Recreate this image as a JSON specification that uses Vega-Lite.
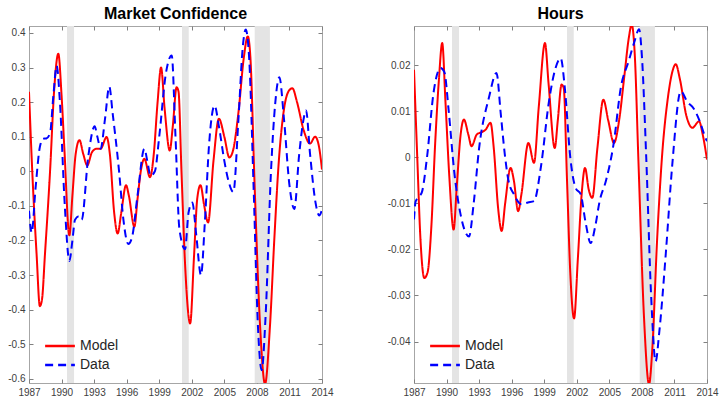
{
  "$schema": "https://vega.github.io/schema/vega-lite/v6.json",
  "background": "white",
  "padding": {"left": 7, "top": 5, "right": 0, "bottom": 0},
  "spacing": 52,
  "config": {
    "view": {"stroke": "#a6a6a6", "strokeWidth": 1},
    "axis": {"grid": false, "domain": false, "ticks": true, "tickSize": -4, "tickColor": "#808080", "labelPadding": 8, "labelFontSize": 10, "labelColor": "#404040", "labelFont": "Liberation Sans", "labelOverlap": false, "labelFlush": false},
    "title": {"font": "Liberation Sans", "fontSize": 16, "fontWeight": "bold", "color": "#000000", "offset": 4, "anchor": "middle", "frame": "group"}
  },
  "datasets": {
    "rec": [
      {"start": 1990.5, "end": 1991.15},
      {"start": 2001.1, "end": 2001.72},
      {"start": 2007.8, "end": 2009.2}
    ],
    "mc": [
      {"series": "Model", "year": 1987.0, "value": 0.23},
      {"series": "Model", "year": 1987.3, "value": 0.0},
      {"series": "Model", "year": 1987.7, "value": -0.24},
      {"series": "Model", "year": 1988.0, "value": -0.39},
      {"series": "Model", "year": 1988.2, "value": -0.37},
      {"series": "Model", "year": 1988.47, "value": -0.24},
      {"series": "Model", "year": 1988.94, "value": 0.0},
      {"series": "Model", "year": 1989.33, "value": 0.24},
      {"series": "Model", "year": 1989.7, "value": 0.34},
      {"series": "Model", "year": 1990.0, "value": 0.22},
      {"series": "Model", "year": 1990.26, "value": 0.065},
      {"series": "Model", "year": 1990.72, "value": -0.185},
      {"series": "Model", "year": 1991.0, "value": -0.07},
      {"series": "Model", "year": 1991.3, "value": 0.05},
      {"series": "Model", "year": 1991.65, "value": 0.09},
      {"series": "Model", "year": 1992.0, "value": 0.05},
      {"series": "Model", "year": 1992.37, "value": 0.017},
      {"series": "Model", "year": 1992.8, "value": 0.055},
      {"series": "Model", "year": 1993.2, "value": 0.065},
      {"series": "Model", "year": 1993.6, "value": 0.065},
      {"series": "Model", "year": 1994.15, "value": 0.099},
      {"series": "Model", "year": 1994.45, "value": 0.05},
      {"series": "Model", "year": 1994.85, "value": -0.12},
      {"series": "Model", "year": 1995.17, "value": -0.18},
      {"series": "Model", "year": 1995.5, "value": -0.12},
      {"series": "Model", "year": 1995.94, "value": -0.04},
      {"series": "Model", "year": 1996.2, "value": -0.07},
      {"series": "Model", "year": 1996.71, "value": -0.16},
      {"series": "Model", "year": 1997.0, "value": -0.08},
      {"series": "Model", "year": 1997.3, "value": 0.0},
      {"series": "Model", "year": 1997.63, "value": 0.036},
      {"series": "Model", "year": 1998.15, "value": -0.017},
      {"series": "Model", "year": 1998.5, "value": 0.05},
      {"series": "Model", "year": 1998.85, "value": 0.2},
      {"series": "Model", "year": 1999.17, "value": 0.30},
      {"series": "Model", "year": 1999.5, "value": 0.18},
      {"series": "Model", "year": 1999.97, "value": 0.06},
      {"series": "Model", "year": 2000.25, "value": 0.13},
      {"series": "Model", "year": 2000.6, "value": 0.243},
      {"series": "Model", "year": 2000.78, "value": 0.23},
      {"series": "Model", "year": 2001.05, "value": 0.0},
      {"series": "Model", "year": 2001.4, "value": -0.28},
      {"series": "Model", "year": 2001.85, "value": -0.44},
      {"series": "Model", "year": 2002.2, "value": -0.25},
      {"series": "Model", "year": 2002.5, "value": -0.08},
      {"series": "Model", "year": 2002.8, "value": -0.04},
      {"series": "Model", "year": 2003.15, "value": -0.10},
      {"series": "Model", "year": 2003.5, "value": -0.148},
      {"series": "Model", "year": 2004.0, "value": 0.03},
      {"series": "Model", "year": 2004.5, "value": 0.152},
      {"series": "Model", "year": 2005.0, "value": 0.10},
      {"series": "Model", "year": 2005.46, "value": 0.04},
      {"series": "Model", "year": 2005.8, "value": 0.06},
      {"series": "Model", "year": 2006.3, "value": 0.17},
      {"series": "Model", "year": 2006.8, "value": 0.33},
      {"series": "Model", "year": 2007.16, "value": 0.39},
      {"series": "Model", "year": 2007.4, "value": 0.33},
      {"series": "Model", "year": 2007.8, "value": -0.05},
      {"series": "Model", "year": 2008.3, "value": -0.45},
      {"series": "Model", "year": 2008.75, "value": -0.615},
      {"series": "Model", "year": 2009.2, "value": -0.45},
      {"series": "Model", "year": 2009.6, "value": -0.20},
      {"series": "Model", "year": 2010.0, "value": 0.02},
      {"series": "Model", "year": 2010.5, "value": 0.18},
      {"series": "Model", "year": 2011.0, "value": 0.235},
      {"series": "Model", "year": 2011.27, "value": 0.24},
      {"series": "Model", "year": 2011.7, "value": 0.20},
      {"series": "Model", "year": 2012.3, "value": 0.12},
      {"series": "Model", "year": 2012.9, "value": 0.08},
      {"series": "Model", "year": 2013.36, "value": 0.10},
      {"series": "Model", "year": 2013.7, "value": 0.075},
      {"series": "Model", "year": 2014.0, "value": 0.005},
      {"series": "Data", "year": 1987.0, "value": -0.114},
      {"series": "Data", "year": 1987.25, "value": -0.177},
      {"series": "Data", "year": 1987.6, "value": -0.05},
      {"series": "Data", "year": 1988.0, "value": 0.07},
      {"series": "Data", "year": 1988.32, "value": 0.094},
      {"series": "Data", "year": 1988.6, "value": 0.095},
      {"series": "Data", "year": 1988.94, "value": 0.11},
      {"series": "Data", "year": 1989.25, "value": 0.22},
      {"series": "Data", "year": 1989.55, "value": 0.305},
      {"series": "Data", "year": 1989.85, "value": 0.2},
      {"series": "Data", "year": 1990.3, "value": -0.1},
      {"series": "Data", "year": 1990.72, "value": -0.259},
      {"series": "Data", "year": 1991.0, "value": -0.2},
      {"series": "Data", "year": 1991.24, "value": -0.14},
      {"series": "Data", "year": 1991.6, "value": -0.13},
      {"series": "Data", "year": 1991.85, "value": -0.14},
      {"series": "Data", "year": 1992.47, "value": 0.045},
      {"series": "Data", "year": 1993.05, "value": 0.13},
      {"series": "Data", "year": 1993.3, "value": 0.1},
      {"series": "Data", "year": 1993.6, "value": 0.065},
      {"series": "Data", "year": 1994.0, "value": 0.15},
      {"series": "Data", "year": 1994.4, "value": 0.245},
      {"series": "Data", "year": 1994.7, "value": 0.17},
      {"series": "Data", "year": 1995.3, "value": 0.0},
      {"series": "Data", "year": 1995.7, "value": -0.14},
      {"series": "Data", "year": 1996.15, "value": -0.21},
      {"series": "Data", "year": 1996.5, "value": -0.19},
      {"series": "Data", "year": 1997.0, "value": -0.07},
      {"series": "Data", "year": 1997.63, "value": 0.065},
      {"series": "Data", "year": 1997.9, "value": 0.03},
      {"series": "Data", "year": 1998.2, "value": -0.013},
      {"series": "Data", "year": 1998.6, "value": 0.0},
      {"series": "Data", "year": 1999.0, "value": 0.1},
      {"series": "Data", "year": 1999.6, "value": 0.28},
      {"series": "Data", "year": 2000.15, "value": 0.335},
      {"series": "Data", "year": 2000.5, "value": 0.1},
      {"series": "Data", "year": 2000.86, "value": -0.167},
      {"series": "Data", "year": 2001.38, "value": -0.225},
      {"series": "Data", "year": 2001.7, "value": -0.12},
      {"series": "Data", "year": 2002.05, "value": -0.09},
      {"series": "Data", "year": 2002.4, "value": -0.18},
      {"series": "Data", "year": 2002.85, "value": -0.30},
      {"series": "Data", "year": 2003.2, "value": -0.15},
      {"series": "Data", "year": 2003.6, "value": 0.08},
      {"series": "Data", "year": 2004.1, "value": 0.19},
      {"series": "Data", "year": 2004.5, "value": 0.13},
      {"series": "Data", "year": 2005.0, "value": 0.03},
      {"series": "Data", "year": 2005.4, "value": -0.03},
      {"series": "Data", "year": 2005.83, "value": -0.06},
      {"series": "Data", "year": 2006.3, "value": 0.15},
      {"series": "Data", "year": 2006.7, "value": 0.36},
      {"series": "Data", "year": 2006.97, "value": 0.41},
      {"series": "Data", "year": 2007.3, "value": 0.32},
      {"series": "Data", "year": 2007.7, "value": -0.05},
      {"series": "Data", "year": 2008.1, "value": -0.45},
      {"series": "Data", "year": 2008.44, "value": -0.575},
      {"series": "Data", "year": 2008.8, "value": -0.42},
      {"series": "Data", "year": 2009.3, "value": 0.0},
      {"series": "Data", "year": 2009.7, "value": 0.2},
      {"series": "Data", "year": 2010.07, "value": 0.272},
      {"series": "Data", "year": 2010.5, "value": 0.15},
      {"series": "Data", "year": 2011.0, "value": -0.04},
      {"series": "Data", "year": 2011.45, "value": -0.109},
      {"series": "Data", "year": 2011.9, "value": 0.05},
      {"series": "Data", "year": 2012.3, "value": 0.15},
      {"series": "Data", "year": 2012.53, "value": 0.176},
      {"series": "Data", "year": 2012.9, "value": 0.05},
      {"series": "Data", "year": 2013.4, "value": -0.09},
      {"series": "Data", "year": 2013.75, "value": -0.128},
      {"series": "Data", "year": 2014.0, "value": -0.11}
    ],
    "hours": [
      {"series": "Model", "year": 1987.0, "value": 0.019},
      {"series": "Model", "year": 1987.3, "value": 0.0},
      {"series": "Model", "year": 1987.6, "value": -0.018},
      {"series": "Model", "year": 1987.95, "value": -0.0262},
      {"series": "Model", "year": 1988.25, "value": -0.025},
      {"series": "Model", "year": 1988.6, "value": -0.015},
      {"series": "Model", "year": 1988.95, "value": 0.003},
      {"series": "Model", "year": 1989.3, "value": 0.017},
      {"series": "Model", "year": 1989.6, "value": 0.0248},
      {"series": "Model", "year": 1989.9, "value": 0.012},
      {"series": "Model", "year": 1990.25, "value": -0.004},
      {"series": "Model", "year": 1990.65, "value": -0.0157},
      {"series": "Model", "year": 1990.95, "value": -0.006},
      {"series": "Model", "year": 1991.3, "value": 0.005},
      {"series": "Model", "year": 1991.6, "value": 0.0082},
      {"series": "Model", "year": 1992.0, "value": 0.005},
      {"series": "Model", "year": 1992.3, "value": 0.0024},
      {"series": "Model", "year": 1992.8, "value": 0.005},
      {"series": "Model", "year": 1993.3, "value": 0.0055},
      {"series": "Model", "year": 1993.6, "value": 0.006},
      {"series": "Model", "year": 1994.05, "value": 0.0075},
      {"series": "Model", "year": 1994.35, "value": 0.002},
      {"series": "Model", "year": 1994.75, "value": -0.011},
      {"series": "Model", "year": 1995.08, "value": -0.016},
      {"series": "Model", "year": 1995.4, "value": -0.01},
      {"series": "Model", "year": 1995.9, "value": -0.0023},
      {"series": "Model", "year": 1996.2, "value": -0.005},
      {"series": "Model", "year": 1996.6, "value": -0.0117},
      {"series": "Model", "year": 1996.9, "value": -0.008},
      {"series": "Model", "year": 1997.54, "value": 0.0031},
      {"series": "Model", "year": 1998.06, "value": -0.0012},
      {"series": "Model", "year": 1998.5, "value": 0.011},
      {"series": "Model", "year": 1999.07, "value": 0.0248},
      {"series": "Model", "year": 1999.4, "value": 0.016},
      {"series": "Model", "year": 1999.97, "value": 0.002},
      {"series": "Model", "year": 2000.25, "value": 0.008},
      {"series": "Model", "year": 2000.6, "value": 0.0158},
      {"series": "Model", "year": 2000.8, "value": 0.015},
      {"series": "Model", "year": 2001.1, "value": -0.005},
      {"series": "Model", "year": 2001.4, "value": -0.025},
      {"series": "Model", "year": 2001.75, "value": -0.035},
      {"series": "Model", "year": 2002.1, "value": -0.022},
      {"series": "Model", "year": 2002.45, "value": -0.008},
      {"series": "Model", "year": 2002.76, "value": -0.0023},
      {"series": "Model", "year": 2003.1, "value": -0.007},
      {"series": "Model", "year": 2003.43, "value": -0.0088},
      {"series": "Model", "year": 2003.9, "value": 0.002},
      {"series": "Model", "year": 2004.45, "value": 0.0125},
      {"series": "Model", "year": 2004.9, "value": 0.008},
      {"series": "Model", "year": 2005.43, "value": 0.0031},
      {"series": "Model", "year": 2005.9, "value": 0.008},
      {"series": "Model", "year": 2006.4, "value": 0.018},
      {"series": "Model", "year": 2006.8, "value": 0.026},
      {"series": "Model", "year": 2007.06, "value": 0.0288},
      {"series": "Model", "year": 2007.35, "value": 0.022},
      {"series": "Model", "year": 2007.67, "value": 0.0},
      {"series": "Model", "year": 2008.2, "value": -0.035},
      {"series": "Model", "year": 2008.66, "value": -0.0493},
      {"series": "Model", "year": 2008.95, "value": -0.042},
      {"series": "Model", "year": 2009.4, "value": -0.018},
      {"series": "Model", "year": 2009.85, "value": 0.0},
      {"series": "Model", "year": 2010.4, "value": 0.013},
      {"series": "Model", "year": 2010.8, "value": 0.0185},
      {"series": "Model", "year": 2011.12, "value": 0.0202},
      {"series": "Model", "year": 2011.5, "value": 0.017},
      {"series": "Model", "year": 2012.1, "value": 0.009},
      {"series": "Model", "year": 2012.65, "value": 0.0064},
      {"series": "Model", "year": 2013.27, "value": 0.0078},
      {"series": "Model", "year": 2013.6, "value": 0.005},
      {"series": "Model", "year": 2014.0, "value": -0.0005},
      {"series": "Data", "year": 1987.0, "value": -0.0135},
      {"series": "Data", "year": 1987.15, "value": -0.0096},
      {"series": "Data", "year": 1987.5, "value": -0.0085},
      {"series": "Data", "year": 1987.75, "value": -0.0074},
      {"series": "Data", "year": 1988.2, "value": 0.0},
      {"series": "Data", "year": 1988.8, "value": 0.014},
      {"series": "Data", "year": 1989.45, "value": 0.0194},
      {"series": "Data", "year": 1989.8, "value": 0.0185},
      {"series": "Data", "year": 1990.2, "value": 0.01},
      {"series": "Data", "year": 1990.7, "value": -0.003},
      {"series": "Data", "year": 1991.3, "value": -0.0125},
      {"series": "Data", "year": 1992.07, "value": -0.0172},
      {"series": "Data", "year": 1992.5, "value": -0.01},
      {"series": "Data", "year": 1993.0, "value": 0.002},
      {"series": "Data", "year": 1993.9, "value": 0.0129},
      {"series": "Data", "year": 1994.6, "value": 0.0183},
      {"series": "Data", "year": 1995.0, "value": 0.0093},
      {"series": "Data", "year": 1995.37, "value": 0.0006},
      {"series": "Data", "year": 1995.7, "value": -0.005},
      {"series": "Data", "year": 1996.2, "value": -0.008},
      {"series": "Data", "year": 1996.9, "value": -0.0102},
      {"series": "Data", "year": 1997.5, "value": -0.0098},
      {"series": "Data", "year": 1998.06, "value": -0.0095},
      {"series": "Data", "year": 1998.7, "value": -0.002},
      {"series": "Data", "year": 1999.44, "value": 0.0122},
      {"series": "Data", "year": 2000.0, "value": 0.019},
      {"series": "Data", "year": 2000.52, "value": 0.0215},
      {"series": "Data", "year": 2000.9, "value": 0.015},
      {"series": "Data", "year": 2001.4, "value": 0.0},
      {"series": "Data", "year": 2001.9, "value": -0.0067},
      {"series": "Data", "year": 2002.36, "value": -0.008},
      {"series": "Data", "year": 2002.8, "value": -0.014},
      {"series": "Data", "year": 2003.28, "value": -0.0186},
      {"series": "Data", "year": 2003.7, "value": -0.015},
      {"series": "Data", "year": 2004.1, "value": -0.0096},
      {"series": "Data", "year": 2004.7, "value": -0.005},
      {"series": "Data", "year": 2005.4, "value": 0.003},
      {"series": "Data", "year": 2006.05, "value": 0.015},
      {"series": "Data", "year": 2006.8, "value": 0.021},
      {"series": "Data", "year": 2007.3, "value": 0.025},
      {"series": "Data", "year": 2007.74, "value": 0.0278},
      {"series": "Data", "year": 2008.0, "value": 0.022},
      {"series": "Data", "year": 2008.4, "value": 0.0},
      {"series": "Data", "year": 2008.85, "value": -0.03},
      {"series": "Data", "year": 2009.27, "value": -0.0443},
      {"series": "Data", "year": 2009.6, "value": -0.038},
      {"series": "Data", "year": 2010.2, "value": -0.021},
      {"series": "Data", "year": 2010.8, "value": -0.0016},
      {"series": "Data", "year": 2011.58, "value": 0.0143},
      {"series": "Data", "year": 2012.2, "value": 0.012},
      {"series": "Data", "year": 2012.8, "value": 0.0105},
      {"series": "Data", "year": 2013.3, "value": 0.008},
      {"series": "Data", "year": 2013.9, "value": 0.004},
      {"series": "Data", "year": 2014.0, "value": 0.0035}
    ]
  },
  "hconcat": [
    {
      "title": "Market Confidence",
      "width": 293,
      "height": 357,
      "layer": [
        {
          "data": {"name": "rec"},
          "mark": {"type": "rect", "color": "#e4e4e4"},
          "encoding": {
            "x": {"field": "start", "type": "quantitative", "scale": {"domain": [1987, 2014], "nice": false, "zero": false}, "axis": {"orient": "top", "labels": false, "title": null, "values": [1987, 1990, 1993, 1996, 1999, 2002, 2005, 2008, 2011, 2014]}},
            "x2": {"field": "end"},
            "y": {"datum": 0.42, "type": "quantitative", "scale": {"domain": [-0.612, 0.42], "nice": false, "zero": false}, "axis": {"orient": "right", "labels": false, "title": null, "values": [-0.6, -0.5, -0.4, -0.3, -0.2, -0.1, 0, 0.1, 0.2, 0.3, 0.4]}},
            "y2": {"datum": -0.612}
          }
        },
        {
          "data": {"name": "mc"},
          "mark": {"type": "line", "strokeWidth": 2, "interpolate": "monotone", "clip": true},
          "encoding": {
            "x": {"field": "year", "type": "quantitative", "axis": {"orient": "bottom", "title": null, "format": "d", "values": [1987, 1990, 1993, 1996, 1999, 2002, 2005, 2008, 2011, 2014]}},
            "y": {"field": "value", "type": "quantitative", "axis": {"orient": "left", "title": null, "values": [-0.6, -0.5, -0.4, -0.3, -0.2, -0.1, 0, 0.1, 0.2, 0.3, 0.4], "labelExpr": "datum.value == 0 ? '0' : replace(format(datum.value, '.1f'), '\u2212', '-')"}},
            "color": {"field": "series", "type": "nominal", "scale": {"domain": ["Model", "Data"], "range": ["#ff0000", "#0000ff"]}, "legend": {"title": null, "orient": "none", "legendX": 21, "legendY": 310, "padding": 0, "labelOffset": 10, "rowPadding": 2, "labelFontSize": 14, "labelFont": "Liberation Sans", "labelColor": "#262626", "symbolType": "M-1.75,0H1.75", "symbolSize": 289, "symbolStrokeWidth": 2.5}},
            "strokeDash": {"field": "series", "type": "nominal", "scale": {"domain": ["Model", "Data"], "range": [[1, 0], [8, 5]]}, "legend": {"title": null, "orient": "none", "legendX": 21, "legendY": 310, "padding": 0, "labelOffset": 10, "rowPadding": 2, "labelFontSize": 14, "labelFont": "Liberation Sans", "labelColor": "#262626", "symbolType": "M-1.75,0H1.75", "symbolSize": 289, "symbolStrokeWidth": 2.5}}
          }
        }
      ],
      "resolve": {"axis": {"x": "independent", "y": "independent"}}
    },
    {
      "title": "Hours",
      "width": 293,
      "height": 357,
      "layer": [
        {
          "data": {"name": "rec"},
          "mark": {"type": "rect", "color": "#e4e4e4"},
          "encoding": {
            "x": {"field": "start", "type": "quantitative", "scale": {"domain": [1987, 2014], "nice": false, "zero": false}, "axis": {"orient": "top", "labels": false, "title": null, "values": [1987, 1990, 1993, 1996, 1999, 2002, 2005, 2008, 2011, 2014]}},
            "x2": {"field": "end"},
            "y": {"datum": 0.0285, "type": "quantitative", "scale": {"domain": [-0.049, 0.0285], "nice": false, "zero": false}, "axis": {"orient": "right", "labels": false, "title": null, "values": [-0.04, -0.03, -0.02, -0.01, 0, 0.01, 0.02]}},
            "y2": {"datum": -0.049}
          }
        },
        {
          "data": {"name": "hours"},
          "mark": {"type": "line", "strokeWidth": 2, "interpolate": "monotone", "clip": true},
          "encoding": {
            "x": {"field": "year", "type": "quantitative", "axis": {"orient": "bottom", "title": null, "format": "d", "values": [1987, 1990, 1993, 1996, 1999, 2002, 2005, 2008, 2011, 2014]}},
            "y": {"field": "value", "type": "quantitative", "axis": {"orient": "left", "title": null, "values": [-0.04, -0.03, -0.02, -0.01, 0, 0.01, 0.02], "labelExpr": "datum.value == 0 ? '0' : replace(format(datum.value, '.2f'), '\u2212', '-')"}},
            "color": {"field": "series", "type": "nominal", "scale": {"domain": ["Model", "Data"], "range": ["#ff0000", "#0000ff"]}, "legend": {"title": null, "orient": "none", "legendX": 21, "legendY": 310, "padding": 0, "labelOffset": 10, "rowPadding": 2, "labelFontSize": 14, "labelFont": "Liberation Sans", "labelColor": "#262626", "symbolType": "M-1.75,0H1.75", "symbolSize": 289, "symbolStrokeWidth": 2.5}},
            "strokeDash": {"field": "series", "type": "nominal", "scale": {"domain": ["Model", "Data"], "range": [[1, 0], [8, 5]]}, "legend": {"title": null, "orient": "none", "legendX": 21, "legendY": 310, "padding": 0, "labelOffset": 10, "rowPadding": 2, "labelFontSize": 14, "labelFont": "Liberation Sans", "labelColor": "#262626", "symbolType": "M-1.75,0H1.75", "symbolSize": 289, "symbolStrokeWidth": 2.5}}
          }
        }
      ],
      "resolve": {"axis": {"x": "independent", "y": "independent"}}
    }
  ],
  "resolve": {"scale": {"color": "independent", "strokeDash": "independent"}}
}
